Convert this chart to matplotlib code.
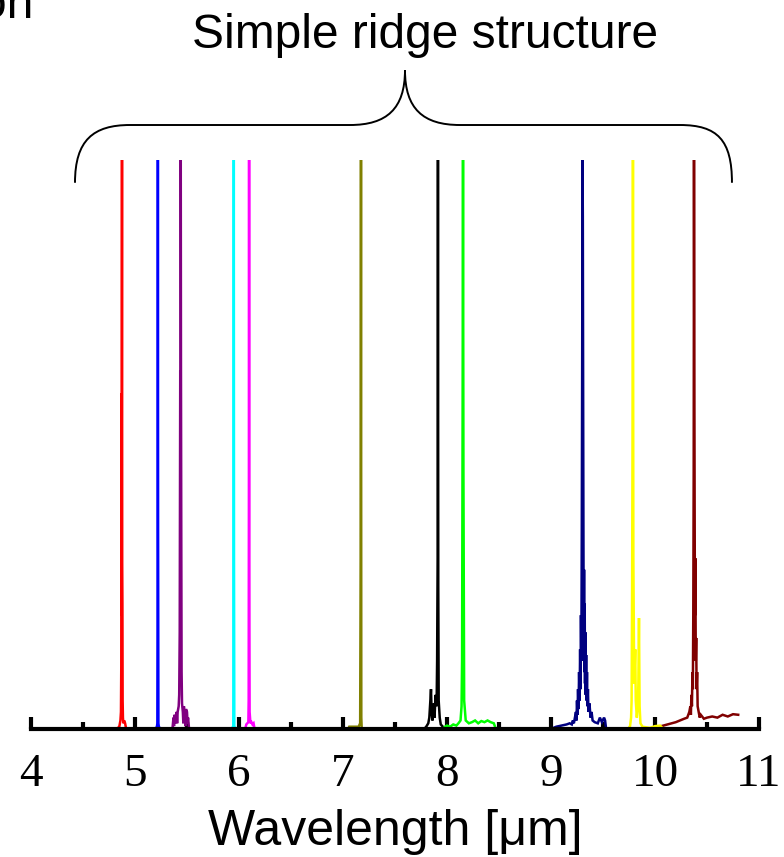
import matplotlib
matplotlib.use("Agg")
import matplotlib.pyplot as plt
from matplotlib.path import Path
from matplotlib.patches import PathPatch
from matplotlib.ticker import MultipleLocator

# Emission spectra of simple ridge lasers (normalised intensity)
red_x = [4.83, 4.85, 4.86, 4.865, 4.868, 4.870, 4.871, 4.873, 4.875, 4.877, 4.879, 4.881, 4.884, 4.888, 4.895, 4.905, 4.915]
red_y = [0.0, 0.005, 0.015, 0.03, 0.11, 0.59, 0.2, 0.62, 1.0, 0.29, 0.22, 0.05, 0.02, 0.01, 0.015, 0.01, 0.0]

blue_x = [5.18, 5.21, 5.215, 5.218, 5.220, 5.222, 5.225, 5.23, 5.26]
blue_y = [0.0, 0.003, 0.01, 0.3, 1.0, 0.35, 0.01, 0.003, 0.0]

purple_x = [5.36, 5.37, 5.375, 5.38, 5.385, 5.39, 5.40, 5.405, 5.41, 5.42, 5.425, 5.43, 5.435,
            5.438, 5.440, 5.442, 5.445, 5.448, 5.452, 5.46, 5.465, 5.47, 5.48, 5.485, 5.49,
            5.50, 5.505, 5.51, 5.52]
purple_y = [0.0, 0.02, 0.005, 0.025, 0.01, 0.02, 0.03, 0.01, 0.03, 0.04, 0.06, 0.17, 0.63,
            0.34, 1.0, 0.63, 0.34, 0.1, 0.045, 0.03, 0.01, 0.04, 0.025, 0.005, 0.035,
            0.03, 0.01, 0.02, 0.0]

cyan_x = [5.92, 5.945, 5.948, 5.950, 5.952, 5.955, 5.98]
cyan_y = [0.0, 0.004, 0.3, 1.0, 0.3, 0.004, 0.0]

magenta_x = [6.06, 6.07, 6.08, 6.09, 6.093, 6.095, 6.097, 6.099, 6.102, 6.11, 6.12, 6.13, 6.14, 6.15]
magenta_y = [0.0, 0.008, 0.01, 0.012, 0.05, 0.385, 1.0, 0.3, 0.03, 0.01, 0.012, 0.008, 0.01, 0.0]

olive_x = [7.05, 7.06, 7.10, 7.15, 7.165, 7.170, 7.173, 7.176, 7.18]
olive_y = [0.0, 0.004, 0.004, 0.004, 0.01, 0.3, 1.0, 0.02, 0.0]

black_x = [7.78, 7.80, 7.82, 7.83, 7.84, 7.846, 7.852, 7.86, 7.87, 7.875, 7.88, 7.885, 7.89,
           7.90, 7.905, 7.910, 7.913, 7.916, 7.92, 7.93, 7.94, 7.96, 7.98]
black_y = [0.0, 0.004, 0.01, 0.02, 0.05, 0.07, 0.03, 0.015, 0.03, 0.045, 0.02, 0.04, 0.06,
           0.04, 0.12, 0.3, 1.0, 0.25, 0.05, 0.02, 0.008, 0.004, 0.0]

green_x = [7.96, 7.98, 8.00, 8.03, 8.06, 8.09, 8.11, 8.13, 8.14, 8.145, 8.150, 8.154, 8.158,
           8.165, 8.18, 8.21, 8.24, 8.27, 8.30, 8.33, 8.36, 8.39, 8.42, 8.45, 8.47]
green_y = [0.0, 0.004, 0.006, 0.004, 0.008, 0.006, 0.01, 0.015, 0.04, 0.12, 0.55, 1.0, 0.45,
           0.05, 0.015, 0.01, 0.012, 0.015, 0.01, 0.014, 0.012, 0.015, 0.012, 0.01, 0.0]

navy_x = [9.00, 9.05, 9.10, 9.15, 9.18, 9.20, 9.21, 9.22, 9.23, 9.24, 9.245, 9.25, 9.255, 9.26,
          9.265, 9.27, 9.275, 9.28, 9.284, 9.288, 9.292, 9.296, 9.300, 9.303, 9.306, 9.309,
          9.312, 9.315, 9.318, 9.321, 9.324, 9.327, 9.33, 9.334, 9.338, 9.342, 9.346, 9.35,
          9.355, 9.36, 9.37, 9.38, 9.39, 9.40, 9.42, 9.45, 9.47, 9.49, 9.51, 9.52, 9.53]
navy_y = [0.0, 0.004, 0.006, 0.008, 0.01, 0.008, 0.015, 0.01, 0.02, 0.03, 0.015, 0.05, 0.025,
          0.07, 0.035, 0.1, 0.05, 0.14, 0.07, 0.2, 0.12, 0.35, 0.66, 1.0, 0.9, 0.6,
          0.33, 0.12, 0.28, 0.1, 0.22, 0.08, 0.17, 0.06, 0.13, 0.05, 0.1, 0.04,
          0.07, 0.03, 0.045, 0.02, 0.03, 0.015, 0.012, 0.01, 0.02, 0.012, 0.02, 0.015, 0.0]

yellow_x = [9.74, 9.76, 9.77, 9.775, 9.780, 9.785, 9.788, 9.792, 9.80, 9.81, 9.815, 9.825,
            9.835, 9.840, 9.846, 9.852, 9.86, 9.88, 9.95, 10.0, 10.05, 10.08]
yellow_y = [0.0, 0.005, 0.02, 0.05, 0.25, 0.6, 1.0, 0.3, 0.08, 0.14, 0.05, 0.02,
            0.04, 0.08, 0.195, 0.04, 0.01, 0.004, 0.002, 0.005, 0.006, 0.0]

darkred_x = [10.00, 10.04, 10.08, 10.12, 10.16, 10.20, 10.24, 10.28, 10.31, 10.33, 10.34,
             10.345, 10.35, 10.355, 10.36, 10.364, 10.368, 10.372, 10.375, 10.378, 10.381,
             10.384, 10.388, 10.392, 10.396, 10.40, 10.405, 10.41, 10.42, 10.43, 10.44,
             10.47, 10.50, 10.55, 10.60, 10.65, 10.70, 10.75, 10.80]
darkred_y = [0.0, 0.004, 0.006, 0.008, 0.01, 0.012, 0.015, 0.018, 0.02, 0.03, 0.04,
             0.025, 0.06, 0.04, 0.1, 0.07, 0.2, 0.45, 1.0, 0.65, 0.4,
             0.2, 0.3, 0.12, 0.16, 0.07, 0.1, 0.04, 0.03, 0.02, 0.025,
             0.018, 0.02, 0.022, 0.02, 0.025, 0.022, 0.026, 0.025]

spectra = [
    (red_x, red_y, "#ff0000"),
    (blue_x, blue_y, "#0000ff"),
    (purple_x, purple_y, "#800080"),
    (cyan_x, cyan_y, "#00ffff"),
    (magenta_x, magenta_y, "#ff00ff"),
    (olive_x, olive_y, "#808000"),
    (black_x, black_y, "#000000"),
    (green_x, green_y, "#00ff00"),
    (navy_x, navy_y, "#000080"),
    (darkred_x, darkred_y, "#800000"),
    (yellow_x, yellow_y, "#ffff00"),
]

x_ticks = [4, 5, 6, 7, 8, 9, 10, 11]

fig = plt.figure(figsize=(7.84, 8.57), dpi=100)
ax = fig.add_axes([31 / 784, 1 - 729 / 857, 728 / 784, 569 / 857])

for xs, ys, c in spectra:
    ax.plot(xs, ys, color=c, lw=1.8, solid_joinstyle="miter")

ax.set_xlim(4, 11)
ax.set_ylim(0, 1.0)
for s in ["top", "left", "right"]:
    ax.spines[s].set_visible(False)
ax.spines["bottom"].set_linewidth(3)
ax.set_yticks([])
ax.set_xticks(x_ticks)
ax.xaxis.set_minor_locator(MultipleLocator(0.5))
ax.tick_params(axis="x", which="major", direction="in", length=9, width=3, pad=18)
ax.tick_params(axis="x", which="minor", direction="in", length=5, width=3)
for lab in ax.get_xticklabels():
    lab.set_fontfamily("Liberation Serif")
    lab.set_fontsize(34)
ax.set_xlabel("Wavelength [\u03bcm]", fontsize=36, family="Liberation Sans", labelpad=9)
ax.patch.set_alpha(0)

# curly brace over all lasers
verts = [(4.423, 0.96), (4.423, 1.035), (4.6, 1.0615), (4.952, 1.0615),
         (7.067, 1.0615),
         (7.42, 1.0615), (7.596, 1.09), (7.596, 1.158),
         (7.596, 1.09), (7.77, 1.0615), (8.125, 1.0615),
         (10.24, 1.0615),
         (10.6, 1.0615), (10.74, 1.035), (10.74, 0.96)]
codes = [Path.MOVETO, Path.CURVE4, Path.CURVE4, Path.CURVE4,
         Path.LINETO,
         Path.CURVE4, Path.CURVE4, Path.CURVE4,
         Path.CURVE4, Path.CURVE4, Path.CURVE4,
         Path.LINETO,
         Path.CURVE4, Path.CURVE4, Path.CURVE4]
ax.add_patch(PathPatch(Path(verts, codes), fill=False, lw=1.4, color="black", clip_on=False))

fig.text(425 / 784, 1 - 48 / 857, "Simple ridge structure", ha="center", va="baseline",
         fontsize=34.5, family="Liberation Sans")
fig.text(33 / 784, 1 - 18 / 857, "on", ha="right", va="baseline",
         fontsize=34.5, family="Liberation Sans")

fig.savefig("out.png", dpi=100)
